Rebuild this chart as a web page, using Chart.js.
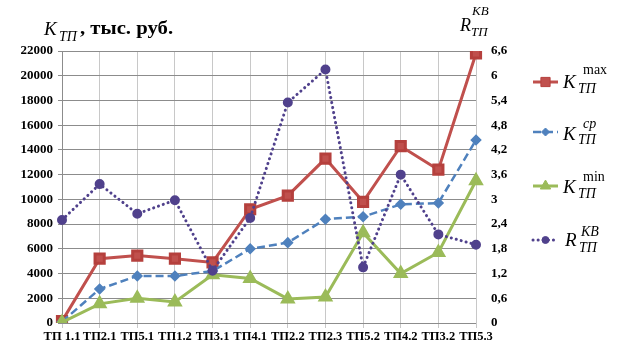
<!DOCTYPE html>
<html>
<head>
<meta charset="utf-8">
<script src="https://cdn.jsdelivr.net/npm/chart.js@4"></script>
<style>
  html, body { margin: 0; padding: 0; background: #fff; }
  #wrap { position: relative; width: 622px; height: 342px; }
  .t { position: absolute; font-family: "Liberation Serif", "Times New Roman", serif; line-height: 1; color: #000; white-space: nowrap; }
  .i { font-style: italic; }
  .b { font-weight: bold; }
</style>
</head>
<body>
<div id="wrap">
  <canvas id="myChart" width="622" height="342"></canvas>

  <!-- left axis title -->
  <div class="t i" style="left:44px;top:19px;font-size:19px">K</div>
  <div class="t i" style="left:59px;top:30px;font-size:14px">ТП</div>
  <div class="t b" style="left:80px;top:19px;font-size:18px;transform:scaleX(1.15);transform-origin:left top">, тыс. руб.</div>

  <!-- right axis title -->
  <div class="t i" style="left:460px;top:16px;font-size:18px">R</div>
  <div class="t i" style="left:472px;top:4px;font-size:13px">KB</div>
  <div class="t i" style="left:471px;top:25px;font-size:13px">ТП</div>

  <!-- legend texts -->
  <div class="t i" style="left:563px;top:72px;font-size:19px">K</div>
  <div class="t" style="left:583px;top:63px;font-size:14px">max</div>
  <div class="t i" style="left:578px;top:82px;font-size:14px">ТП</div>

  <div class="t i" style="left:563px;top:124px;font-size:19px">K</div>
  <div class="t i" style="left:583px;top:117px;font-size:14px">cp</div>
  <div class="t i" style="left:578px;top:133px;font-size:14px">ТП</div>

  <div class="t i" style="left:563px;top:177px;font-size:19px">K</div>
  <div class="t" style="left:583px;top:170px;font-size:14px">min</div>
  <div class="t i" style="left:578px;top:187px;font-size:14px">ТП</div>

  <div class="t i" style="left:565px;top:230px;font-size:19px">R</div>
  <div class="t i" style="left:581px;top:225px;font-size:14px">KB</div>
  <div class="t i" style="left:579px;top:241px;font-size:14px">ТП</div>
</div>
<script>
const ctx = document.getElementById("myChart");

// substations
const categories = ["ТП 1.1", "ТП2.1", "ТП5.1", "ТП1.2", "ТП3.1", "ТП4.1", "ТП2.2", "ТП2.3", "ТП5.2", "ТП4.2", "ТП3.2", "ТП5.3"];

// K_TP, thousand rub. (left axis)
const kMax = [150, 5200, 5450, 5200, 4900, 9200, 10300, 13300, 9800, 14300, 12400, 21800];
const kAvg = [100, 2750, 3800, 3800, 4200, 6000, 6500, 8400, 8600, 9600, 9700, 14800];
const kMin = [50, 1550, 2000, 1700, 3900, 3600, 1950, 2100, 7300, 4000, 5700, 11500];

// R_TP^KB (right axis)
const rKv = [2.5, 3.37, 2.65, 2.98, 1.27, 2.55, 5.35, 6.15, 1.35, 3.6, 2.15, 1.9];

// axis ranges
const leftMax = 22000, leftStep = 2000;
const rightMax = 6.6, rightStep = 0.6;

const tickFont = { family: "Liberation Serif", size: 13, weight: "bold" };
const xFont = { family: "Liberation Serif", size: 12.5, weight: "bold" };

// legend samples (line + marker) drawn next to the html labels
const legendRows = [82, 132, 186, 240];
const legendSamples = {
  id: "legendSamples",
  afterDraw(chart) {
    const c = chart.ctx;
    chart.data.datasets.forEach((ds, i) => {
      const y = legendRows[i];
      c.save();
      c.strokeStyle = ds.borderColor;
      c.lineWidth = ds.borderWidth;
      c.lineCap = ds.borderCapStyle || "butt";
      c.setLineDash(ds.borderDash || []);
      c.beginPath();
      c.moveTo(533, y);
      c.lineTo(558, y);
      c.stroke();
      c.setLineDash([]);
      c.fillStyle = ds.pointBackgroundColor;
      c.strokeStyle = ds.pointBorderColor;
      c.lineWidth = 1;
      Chart.helpers.drawPoint(c, { pointStyle: ds.pointStyle, radius: ds.pointRadius, borderWidth: 1, rotation: 0 }, 545.5, y);
      c.restore();
    });
  }
};

const chart = new Chart(ctx, {
  type: "line",
  data: {
    labels: categories,
    datasets: [
      {
        label: "K max",
        data: kMax,
        yAxisID: "y",
        borderColor: "#C0504D",
        backgroundColor: "#C0504D",
        pointBackgroundColor: "#C0504D",
        pointBorderColor: "#B5403D",
        borderWidth: 3,
        pointStyle: "rect",
        pointRadius: 6.5,
        order: 4,
      },
      {
        label: "K cp",
        data: kAvg,
        yAxisID: "y",
        borderColor: "#4F81BD",
        backgroundColor: "#4F81BD",
        pointBackgroundColor: "#4F81BD",
        pointBorderColor: "#4F81BD",
        borderWidth: 2.5,
        borderDash: [8, 4],
        pointStyle: "rectRot",
        pointRadius: 4,
        order: 3,
      },
      {
        label: "K min",
        data: kMin,
        yAxisID: "y",
        borderColor: "#9BBB59",
        backgroundColor: "#9BBB59",
        pointBackgroundColor: "#9BBB59",
        pointBorderColor: "#9BBB59",
        borderWidth: 3,
        pointStyle: "triangle",
        pointRadius: 6,
        order: 2,
      },
      {
        label: "R KB",
        data: rKv,
        yAxisID: "y1",
        borderColor: "#50418C",
        backgroundColor: "#50418C",
        pointBackgroundColor: "#50418C",
        pointBorderColor: "#50418C",
        borderWidth: 3,
        borderDash: [0.1, 5],
        borderCapStyle: "round",
        pointStyle: "circle",
        pointRadius: 3.5,
        order: 1,
      },
    ],
  },
  options: {
    responsive: false,
    animation: false,
    devicePixelRatio: 1,
    layout: { padding: { left: 0, top: 51, right: 106, bottom: 0 } },
    plugins: {
      legend: { display: false },
      tooltip: { enabled: false },
    },
    elements: { line: { tension: 0 } },
    scales: {
      x: {
        offset: false,
        grid: { color: "#c8c8c8", tickLength: 5, drawTicks: true },
        border: { color: "#8c8c8c" },
        ticks: { color: "#000", font: xFont, maxRotation: 0, autoSkip: false, padding: 1 },
        afterFit: (s) => { s.height = 19; },
      },
      y: {
        position: "left",
        min: 0,
        max: leftMax,
        grid: { color: "#8c8c8c", tickLength: 4 },
        border: { color: "#8c8c8c" },
        ticks: {
          stepSize: leftStep,
          color: "#000",
          font: tickFont,
          padding: 5,
          callback: (v) => String(v),
        },
        afterFit: (s) => { s.width = 62; },
      },
      y1: {
        position: "right",
        min: 0,
        max: rightMax,
        grid: { display: false },
        border: { color: "#c8c8c8" },
        ticks: {
          stepSize: rightStep,
          color: "#000",
          font: tickFont,
          padding: 7,
          callback: (v) => String(Math.round(v * 10) / 10).replace(".", ","),
        },
        afterFit: (s) => { s.width = 40; },
      },
    },
  },
  plugins: [legendSamples],
});
</script>
</body>
</html>
